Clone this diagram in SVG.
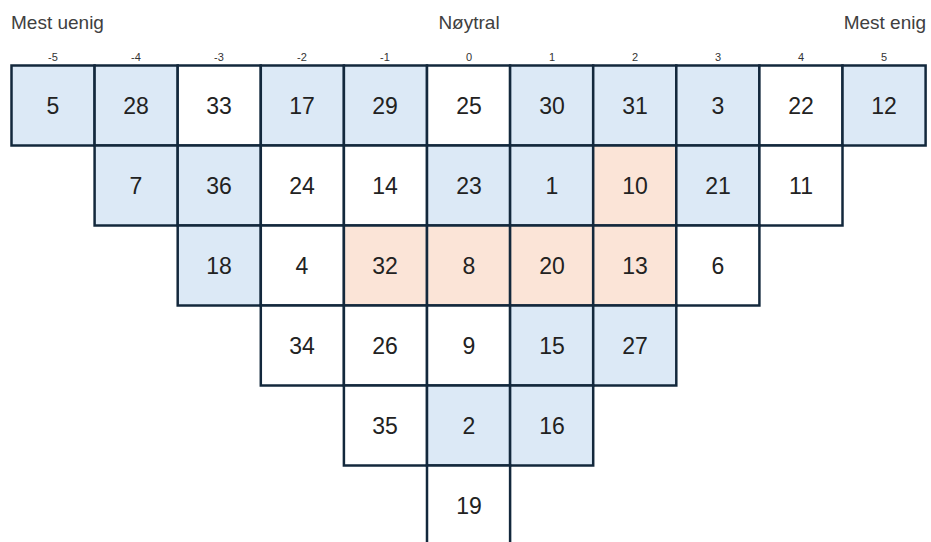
<svg xmlns="http://www.w3.org/2000/svg" width="931" height="542" viewBox="0 0 931 542">
<style>
.c rect{stroke:#13283c;stroke-width:2.5}
.b{fill:#dce9f6}.w{fill:#ffffff}.o{fill:#fbe4d7}
.n{font-family:"Liberation Sans",Arial,sans-serif;font-size:23px;fill:#222;text-anchor:middle}
.h{font-family:"Liberation Sans",Arial,sans-serif;font-size:19px;fill:#404040}
.s{font-family:"Liberation Sans",Arial,sans-serif;font-size:11px;fill:#333;text-anchor:middle}
</style>
<rect width="931" height="542" fill="#fff"/>
<g id="headers">
<text class="h" x="11" y="29">Mest uenig</text>
<text class="h" x="469" y="29" text-anchor="middle">Nøytral</text>
<text class="h" x="926" y="29" text-anchor="end">Mest enig</text>
</g>
<g id="scale">
<text class="s" x="53" y="61">-5</text>
<text class="s" x="136" y="61">-4</text>
<text class="s" x="219" y="61">-3</text>
<text class="s" x="302" y="61">-2</text>
<text class="s" x="385" y="61">-1</text>
<text class="s" x="469" y="61">0</text>
<text class="s" x="552" y="61">1</text>
<text class="s" x="635" y="61">2</text>
<text class="s" x="718" y="61">3</text>
<text class="s" x="801" y="61">4</text>
<text class="s" x="884" y="61">5</text>
</g>
<g class="c">
<!-- row 0 -->
<g id="n5"><rect class="b" x="11.5" y="65.5" width="83.1" height="80"/><text class="n" x="53" y="113.5">5</text></g>
<g id="n28"><rect class="b" x="94.6" y="65.5" width="83.1" height="80"/><text class="n" x="136" y="113.5">28</text></g>
<g id="n33"><rect class="w" x="177.7" y="65.5" width="83.1" height="80"/><text class="n" x="219" y="113.5">33</text></g>
<g id="n17"><rect class="b" x="260.8" y="65.5" width="83.1" height="80"/><text class="n" x="302" y="113.5">17</text></g>
<g id="n29"><rect class="b" x="343.9" y="65.5" width="83.1" height="80"/><text class="n" x="385" y="113.5">29</text></g>
<g id="n25"><rect class="w" x="427" y="65.5" width="83.1" height="80"/><text class="n" x="469" y="113.5">25</text></g>
<g id="n30"><rect class="b" x="510.1" y="65.5" width="83.1" height="80"/><text class="n" x="552" y="113.5">30</text></g>
<g id="n31"><rect class="b" x="593.2" y="65.5" width="83.1" height="80"/><text class="n" x="635" y="113.5">31</text></g>
<g id="n3"><rect class="b" x="676.3" y="65.5" width="83.1" height="80"/><text class="n" x="718" y="113.5">3</text></g>
<g id="n22"><rect class="w" x="759.4" y="65.5" width="83.1" height="80"/><text class="n" x="801" y="113.5">22</text></g>
<g id="n12"><rect class="b" x="842.5" y="65.5" width="83.1" height="80"/><text class="n" x="884" y="113.5">12</text></g>
<!-- row 1 -->
<g id="n7"><rect class="b" x="94.6" y="145.5" width="83.1" height="80"/><text class="n" x="136" y="193.5">7</text></g>
<g id="n36"><rect class="b" x="177.7" y="145.5" width="83.1" height="80"/><text class="n" x="219" y="193.5">36</text></g>
<g id="n24"><rect class="w" x="260.8" y="145.5" width="83.1" height="80"/><text class="n" x="302" y="193.5">24</text></g>
<g id="n14"><rect class="w" x="343.9" y="145.5" width="83.1" height="80"/><text class="n" x="385" y="193.5">14</text></g>
<g id="n23"><rect class="b" x="427" y="145.5" width="83.1" height="80"/><text class="n" x="469" y="193.5">23</text></g>
<g id="n1"><rect class="b" x="510.1" y="145.5" width="83.1" height="80"/><text class="n" x="552" y="193.5">1</text></g>
<g id="n10"><rect class="o" x="593.2" y="145.5" width="83.1" height="80"/><text class="n" x="635" y="193.5">10</text></g>
<g id="n21"><rect class="b" x="676.3" y="145.5" width="83.1" height="80"/><text class="n" x="718" y="193.5">21</text></g>
<g id="n11"><rect class="w" x="759.4" y="145.5" width="83.1" height="80"/><text class="n" x="801" y="193.5">11</text></g>
<!-- row 2 -->
<g id="n18"><rect class="b" x="177.7" y="225.5" width="83.1" height="80"/><text class="n" x="219" y="273.5">18</text></g>
<g id="n4"><rect class="w" x="260.8" y="225.5" width="83.1" height="80"/><text class="n" x="302" y="273.5">4</text></g>
<g id="n32"><rect class="o" x="343.9" y="225.5" width="83.1" height="80"/><text class="n" x="385" y="273.5">32</text></g>
<g id="n8"><rect class="o" x="427" y="225.5" width="83.1" height="80"/><text class="n" x="469" y="273.5">8</text></g>
<g id="n20"><rect class="o" x="510.1" y="225.5" width="83.1" height="80"/><text class="n" x="552" y="273.5">20</text></g>
<g id="n13"><rect class="o" x="593.2" y="225.5" width="83.1" height="80"/><text class="n" x="635" y="273.5">13</text></g>
<g id="n6"><rect class="w" x="676.3" y="225.5" width="83.1" height="80"/><text class="n" x="718" y="273.5">6</text></g>
<!-- row 3 -->
<g id="n34"><rect class="w" x="260.8" y="305.5" width="83.1" height="80"/><text class="n" x="302" y="353.5">34</text></g>
<g id="n26"><rect class="w" x="343.9" y="305.5" width="83.1" height="80"/><text class="n" x="385" y="353.5">26</text></g>
<g id="n9"><rect class="w" x="427" y="305.5" width="83.1" height="80"/><text class="n" x="469" y="353.5">9</text></g>
<g id="n15"><rect class="b" x="510.1" y="305.5" width="83.1" height="80"/><text class="n" x="552" y="353.5">15</text></g>
<g id="n27"><rect class="b" x="593.2" y="305.5" width="83.1" height="80"/><text class="n" x="635" y="353.5">27</text></g>
<!-- row 4 -->
<g id="n35"><rect class="w" x="343.9" y="385.5" width="83.1" height="80"/><text class="n" x="385" y="433.5">35</text></g>
<g id="n2"><rect class="b" x="427" y="385.5" width="83.1" height="80"/><text class="n" x="469" y="433.5">2</text></g>
<g id="n16"><rect class="b" x="510.1" y="385.5" width="83.1" height="80"/><text class="n" x="552" y="433.5">16</text></g>
<!-- row 5 -->
<g id="n19"><rect class="w" x="427" y="465.5" width="83.1" height="100"/><text class="n" x="469" y="513.5">19</text></g>
</g>
</svg>
